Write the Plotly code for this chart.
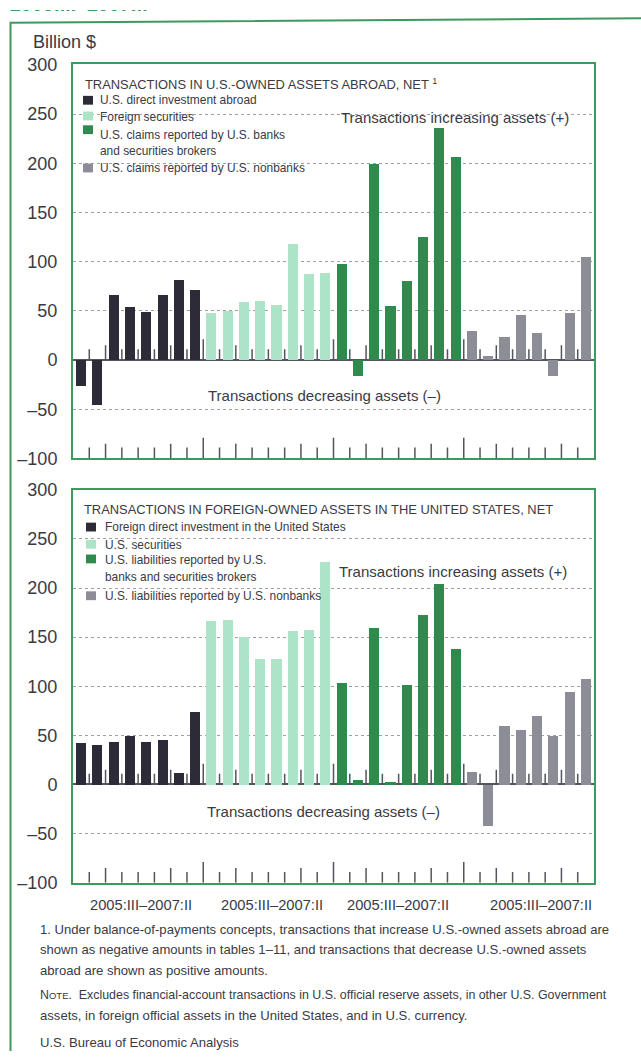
import plotly.graph_objects as go

W, H = 641, 1061

# ---------------- data ----------------
quarters = ["2005:III", "2005:IV", "2006:I", "2006:II", "2006:III", "2006:IV", "2007:I", "2007:II"]
period_label = "2005:III–2007:II"

# Transactions in U.S.-owned assets abroad, net (billion $)
us_direct_investment_abroad = [-26, -46, 66, 54, 49, 66, 81, 71]
foreign_securities = [48, 50, 59, 60, 56, 118, 88, 89]
us_claims_banks = [98, -16, 199, 55, 80, 125, 236, 206]
us_claims_nonbanks = [30, 4, 23, 46, 28, -16, 48, 105]

# Transactions in foreign-owned assets in the United States, net (billion $)
foreign_direct_investment_us = [42, 40, 43, 50, 43, 46, 12, 74]
us_securities = [167, 168, 150, 128, 128, 156, 158, 227]
us_liabilities_banks = [104, 5, 160, 3, 102, 173, 204, 138]
us_liabilities_nonbanks = [13, -42, 60, 56, 70, 50, 94, 108]

top_title = "TRANSACTIONS IN U.S.-OWNED ASSETS ABROAD, NET <sup>1</sup>"
top_names = ["U.S. direct investment abroad", "Foreign securities",
             "U.S. claims reported by U.S. banks<br>and securities brokers",
             "U.S. claims reported by U.S. nonbanks"]
bottom_title = "TRANSACTIONS IN FOREIGN-OWNED ASSETS IN THE UNITED STATES, NET"
bottom_names = ["Foreign direct investment in the United States", "U.S. securities",
                "U.S. liabilities reported by U.S.<br>banks and securities brokers",
                "U.S. liabilities reported by U.S. nonbanks"]

y_tickvals = [-100, -50, 0, 50, 100, 150, 200, 250, 300]
y_ticktext = ["–100", "–50", "0", "50", "100", "150", "200", "250", "300"]

footnotes = [
    "1. Under balance-of-payments concepts, transactions that increase U.S.-owned assets abroad are",
    "shown as negative amounts in tables 1–11, and transactions that decrease U.S.-owned assets",
    "abroad are shown as positive amounts.",
    "N<span style='font-size:9.5px'>OTE</span>.  Excludes financial-account transactions in U.S. official reserve assets, in other U.S. Government",
    "assets, in foreign official assets in the United States, and in U.S. currency.",
    "U.S. Bureau of Economic Analysis",
]

colors = ["#2c2b37", "#ade3c6", "#2f8b4d", "#8d8d97"]
GREEN = "#3c9a5c"
TXT = "#3a3a45"
FONT = "Liberation Sans, Arial, sans-serif"


def fx(p):
    return p / W


def fy(p):
    return 1 - p / H


top_series = [us_direct_investment_abroad, foreign_securities, us_claims_banks, us_claims_nonbanks]
bottom_series = [foreign_direct_investment_us, us_securities, us_liabilities_banks, us_liabilities_nonbanks]

fig = go.Figure()
n = len(quarters)
for panel, series_list, names in [("1", top_series, top_names), ("2", bottom_series, bottom_names)]:
    for g, (vals, name) in enumerate(zip(series_list, names)):
        fig.add_trace(go.Bar(
            x=[g * n + i for i in range(n)], y=vals,
            name=name.replace("<br>", " "),
            customdata=quarters,
            marker=dict(color=colors[g], line=dict(width=0)),
            width=0.62, showlegend=False,
            xaxis="x" if panel == "1" else "x2",
            yaxis="y" if panel == "1" else "y2",
        ))

# heading of the page, only its lower edge is visible (clipped to a thin strip)
fig.add_trace(go.Scatter(
    x=[fx(10)], y=[0.05], mode="text", text=["<b>" + period_label + "</b>"],
    textposition="top right", cliponaxis=True, showlegend=False, hoverinfo="skip",
    textfont=dict(family=FONT, size=19.5, color=GREEN),
    xaxis="x3", yaxis="y3",
))

xdom = [fx(73), fx(594)]
axis_common = dict(showline=True, mirror=True, linecolor=GREEN, linewidth=2)
xcommon = dict(range=[-0.5, 4 * n - 0.5], showticklabels=False, ticks="", showgrid=False,
               zeroline=False, domain=xdom, **axis_common)
ycommon = dict(tickvals=y_tickvals, ticktext=y_ticktext, ticks="", showgrid=True,
               gridcolor="#a0a0a0", griddash="dot", gridwidth=1,
               zeroline=True, zerolinecolor="#55555f", zerolinewidth=1.5,
               tickfont=dict(family=FONT, size=18, color=TXT), ticklabelstandoff=10,
               **axis_common)

fig.update_layout(
    width=W, height=H, margin=dict(l=0, r=0, t=0, b=0),
    paper_bgcolor="white", plot_bgcolor="white",
    barmode="overlay", bargap=0,
    xaxis=dict(anchor="y", **xcommon),
    yaxis=dict(anchor="x", domain=[fy(457), fy(55)], range=[-100, 301], **ycommon),
    xaxis2=dict(anchor="y2", **xcommon),
    yaxis2=dict(anchor="x2", domain=[fy(889.5), fy(489)], range=[-100, 300], **ycommon),
    xaxis3=dict(anchor="y3", domain=[0, 1], range=[0, 1], visible=False),
    yaxis3=dict(anchor="x3", domain=[fy(6), 1], range=[0, 1], visible=False),
)

shapes = []
annotations = []

# tick marks between quarters, at zero line and at the bottom of each panel
for xr, yr in [("x", "y"), ("x2", "y2")]:
    for b in range(1, 4 * n):
        if b % n == 0:
            h = 21
        elif b % n in (2, 6):
            h = 15
        else:
            h = 11
        for base in (0, -100):
            shapes.append(dict(type="line", xref=xr, yref=yr, x0=b - 0.5, x1=b - 0.5,
                               y0=base, y1=base + h, line=dict(color="#55555f", width=1.5)))

# outer frame
shapes.append(dict(type="path", xref="paper", yref="paper",
                   path=f"M {fx(10.5)} {fy(1061)} L {fx(10.5)} {fy(13)} L {fx(641)} {fy(8.5)}",
                   line=dict(color=GREEN, width=2)))

# legends
legend_specs = [
    (top_title, top_names, 83, 75, 83, 98, [92, 109, 127, 161], [92, 108, 122, 161]),
    (bottom_title, bottom_names, 82, 509, 86, 103, [527, 545, 561, 597], [527, 544.5, 559.5, 597]),
]
for title, names, tx, ty, sqx, textx, ys, sqys in legend_specs:
    annotations.append(dict(text=title, xref="paper", yref="paper", x=fx(tx), y=fy(ty),
                            xanchor="left", yanchor="middle", showarrow=False,
                            font=dict(family=FONT, size=12.9, color=TXT)))
    for g, name in enumerate(names):
        shapes.append(dict(type="rect", xref="paper", yref="paper",
                           x0=fx(sqx), x1=fx(sqx + 10), y0=fy(sqys[g] + 4.5), y1=fy(sqys[g] - 4.5),
                           fillcolor=colors[g], line=dict(width=0)))
        for li, line in enumerate(name.split("<br>")):
            annotations.append(dict(text=line, xref="paper", yref="paper",
                                    x=fx(textx), y=fy(ys[g] + 17 * li),
                                    xanchor="left", yanchor="middle", showarrow=False,
                                    font=dict(family=FONT, size=11.9, color=TXT)))

# direction labels
for cx, cy, t in [(455, 110, "Transactions increasing assets (+)"),
                  (325, 393, "Transactions decreasing assets (–)"),
                  (453, 572, "Transactions increasing assets (+)"),
                  (323, 817, "Transactions decreasing assets (–)")]:
    annotations.append(dict(text=t, xref="paper", yref="paper", x=fx(cx), y=fy(cy),
                            xanchor="center", yanchor="middle", showarrow=False,
                            font=dict(family=FONT, size=15, color=TXT)))

# period labels under the groups
for cx in [141, 272, 398, 541]:
    annotations.append(dict(text=period_label, xref="paper", yref="paper", x=fx(cx),
                            y=fy(912), xanchor="center", yanchor="middle", showarrow=False,
                            font=dict(family=FONT, size=14.7, color=TXT)))

# unit label
annotations.append(dict(text="Billion $", xref="paper", yref="paper", x=fx(31), y=fy(33),
                        xanchor="left", yanchor="middle", showarrow=False,
                        font=dict(family=FONT, size=18, color=TXT)))

# footnotes
foot_sizes = [13.1, 13.1, 13.1, 12.4, 13.1, 13.1]
for t, yy, fs in zip(footnotes, [937, 958, 979, 1004, 1025, 1052], foot_sizes):
    annotations.append(dict(text=t, xref="paper", yref="paper", x=fx(38), y=fy(yy),
                            xanchor="left", yanchor="middle", showarrow=False,
                            font=dict(family=FONT, size=fs, color=TXT)))

fig.update_layout(shapes=shapes, annotations=annotations)
fig.write_html(
    "out.html",
    config={"displayModeBar": False},
    post_script=(
        "document.documentElement.style.margin='0';"
        "document.body.style.margin='0';document.body.style.overflow='hidden';"
    ),
)
